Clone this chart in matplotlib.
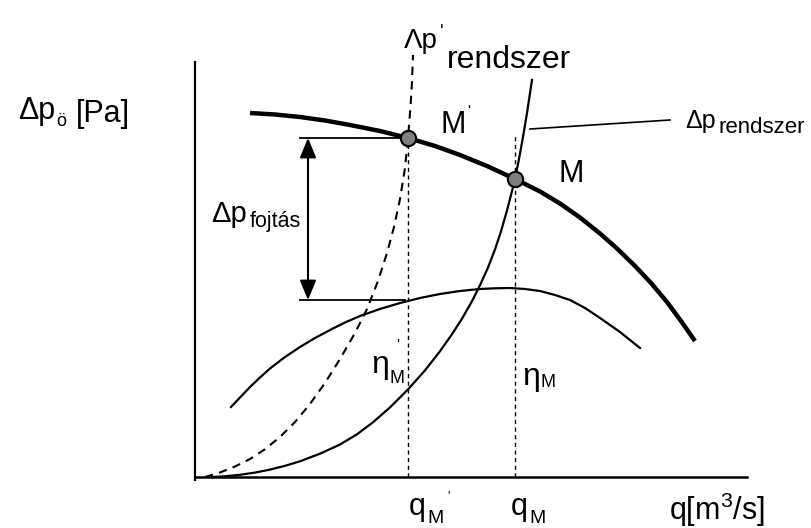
import matplotlib.pyplot as plt
import numpy as np

plt.rcParams['font.family'] = ['Liberation Sans', 'DejaVu Sans']
plt.rcParams['mathtext.fontset'] = 'custom'
plt.rcParams['mathtext.rm'] = 'Liberation Sans'
plt.rcParams['mathtext.it'] = 'Liberation Sans'

# schematic units: q (flow) and dp (pressure)
pump_q = [55, 80, 105, 130, 155, 185, 213, 240, 265, 292, 320, 345, 365, 385,
          405, 422, 440, 456, 472, 486, 500]
pump_dp = [364, 362.5, 360, 356.5, 352, 346, 339, 331, 322, 311, 298, 285.5,
           273.5, 259.5, 243.5, 228.5, 211, 194, 175, 156, 136]

eta_q = [36, 45, 55, 65, 75, 90, 105, 120, 135, 150, 165, 185, 205, 225, 245,
         265, 285, 300, 315, 330, 345, 360, 375, 390, 405, 425, 445]
eta_dp = [70, 79.5, 90, 99.5, 108.5, 120, 130, 139, 147, 154.5, 161, 168, 174,
          179, 183, 186, 188, 188.7, 189, 188, 186, 182, 177, 169, 159, 145, 129]

sys_q = [17, 30, 45, 60, 75, 90, 105, 125, 145, 162, 178, 195, 213, 230, 245,
         257, 267, 277, 285, 293, 300, 306, 312, 316, 320, 324, 328, 332, 337]
sys_dp = [0, 0.7, 2.2, 4.4, 7.4, 11.2, 15.7, 23.3, 32.5, 42.7, 54.7, 69.6, 87.6,
          106.6, 125.8, 142.8, 158.3, 175.8, 191.8, 209.4, 227.6, 245.6, 266.6,
          282, 298, 318, 340, 364, 397]

sys2_q = [10, 25, 40, 55, 70, 85, 100, 115, 130, 145, 160, 172, 183, 192, 199,
          205, 210, 213, 215.5, 217, 218]
sys2_dp = [0, 4.5, 10.5, 18, 27.8, 40, 55, 73, 94, 118, 144, 168, 196, 224, 250,
           278, 309, 339, 370, 395, 422]

op_q = [213, 320]          # M', M
op_dp = [339, 298]
throttle_low = 177         # pump head read down at q_M'

fig = plt.figure(figsize=(8.12, 5.28), dpi=100)
ax = fig.add_axes([195 / 812, 51 / 528, 617 / 812, 477 / 528])
ax.set_xlim(0, 617)
ax.set_ylim(0, 477)
for s in ['top', 'right']:
    ax.spines[s].set_visible(False)
ax.spines['left'].set_bounds(-3, 415)
ax.spines['bottom'].set_bounds(0, 552)
ax.spines['left'].set_linewidth(1.6)
ax.spines['bottom'].set_linewidth(1.8)
ax.set_xticks([])
ax.set_yticks([])

ax.plot(pump_q, pump_dp, color='black', lw=3.2, solid_capstyle='butt')
ax.plot(eta_q, eta_dp, color='black', lw=1.6)
ax.plot(sys_q, sys_dp, color='black', lw=1.6)
ax.plot(sys2_q, sys2_dp, color='black', lw=1.5, ls=(0, (4, 3)))

# verticals at q_M' and q_M
ax.plot([op_q[0], op_q[0]], [0, op_dp[0]], color='black', lw=1, ls=(0, (3, 2.5)))
ax.plot([op_q[1], op_q[1]], [0, op_dp[1] + 44], color='black', lw=1, ls=(0, (3, 2.5)))

# throttling loss
ax.plot([105, op_q[0]], [op_dp[0], op_dp[0]], color='black', lw=1.3)
ax.plot([105, op_q[0] - 3], [throttle_low, throttle_low], color='black', lw=1.3)
ax.annotate('', xy=(113, throttle_low), xytext=(113, op_dp[0]),
            arrowprops=dict(arrowstyle='<|-|>,head_length=1.2,head_width=0.5',
                            color='black', lw=1.5, shrinkA=0, shrinkB=0))

ax.plot(op_q, op_dp, 'o', ms=11, mfc='#7f7f7f', mec='black', mew=1.5, zorder=5)

# leader for the system curve label
ax.plot([335, 475], [348, 357], color='black', lw=1.2, clip_on=False)

t = dict(color='black', va='baseline', ha='left')
ax.text(-177, 358, 'Δp', fontsize=22, **t)
ax.text(-139, 351, 'ö', fontsize=13, **t)
ax.text(-119, 355, '[Pa]', fontsize=22, **t)

ax.text(209, 429, 'Λp', fontsize=20, **t)
ax.text(245, 440, "'", fontsize=14, **t)
ax.text(252, 409, 'rendszer', fontsize=23, **t)

ax.text(246, 344, 'M', fontsize=22, **t)
ax.text(272, 362, "'", fontsize=11, **t)
ax.text(364, 295, 'M', fontsize=22, **t)

ax.text(490, 349, 'Δp', fontsize=18, **t)
ax.text(524, 344, 'rendszer', fontsize=16, **t)

ax.text(16, 255, 'Δp', fontsize=21, **t)
ax.text(55, 250, 'fojtás', fontsize=15.5, **t)

ax.text(176, 104, 'η', fontsize=23, **t)
ax.text(195, 94, 'M', fontsize=13, **t)
ax.text(201, 128, "'", fontsize=11, **t)
ax.text(327, 92, 'η', fontsize=23, **t)
ax.text(346, 90, 'M', fontsize=13, **t)

ax.text(214, -38, 'q', fontsize=22, **t)
ax.text(232, -46, 'M', fontsize=14, **t)
ax.text(252, -22, "'", fontsize=9, **t)
ax.text(316, -38, 'q', fontsize=22, **t)
ax.text(334, -46, 'M', fontsize=14, **t)
ax.text(474, -43, 'q[m$^{3}$/s]', fontsize=22, **t)

fig.savefig('out.png', dpi=100)
